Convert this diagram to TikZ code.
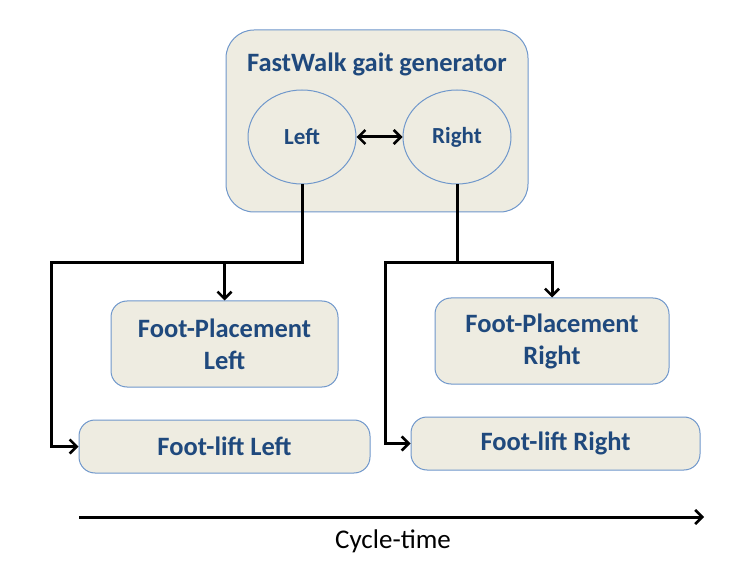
\documentclass[tikz,border=0pt]{standalone}
\usepackage{fontspec}
\setmainfont{Carlito}
\usetikzlibrary{arrows.meta, positioning, calc, shapes.geometric}

\definecolor{boxfill}{HTML}{EEECE1}
\definecolor{boxline}{HTML}{6F97CB}
\definecolor{boxtext}{HTML}{1F497D}

\tikzset{
    block/.style={draw=boxline, fill=boxfill, line width=1pt, rounded corners=16pt,
        text=boxtext, font=\fontsize{26.5}{32}\selectfont\bfseries, align=center, inner sep=0pt},
    phase/.style={ellipse, draw=boxline, fill=boxfill, line width=1pt,
        text=boxtext, font=\fontsize{23}{28}\selectfont\bfseries, inner sep=0pt},
    conn/.style={line width=3pt, >={Straight Barb[length=7pt, width=14pt, line width=2.6pt]}}
}

\begin{document}
\begin{tikzpicture}[x=1pt, y=1pt]
        \useasboundingbox (0,0) rectangle (745,-572);

        % Gait generator with its two legs
        \node[block, rounded corners=28pt, minimum width=302pt, minimum height=182pt] (gen) at (377,-121) {};
        \node[text=boxtext, font=\fontsize{26.5}{32}\selectfont\bfseries] (title) at (377,-64) {FastWalk gait generator};
        \node[phase, minimum width=108pt, minimum height=94pt] (left) at (302,-137) {Left};
        \node[phase, minimum width=108pt, minimum height=94pt] (right) at (457,-137) {Right};
        \draw[conn, <->] (left) -- (right);

        % Output modules
        \node[block, minimum width=227pt, minimum height=86pt] (placeL) at (224.5,-344) {Foot-Placement\\Left};
        \node[block, minimum width=234pt, minimum height=86pt] (placeR) at (552,-341) {Foot-Placement\\Right};
        \node[block, minimum width=291pt, minimum height=53pt] (liftL) at (224.5,-446.5) {Foot-lift Left};
        \node[block, minimum width=289pt, minimum height=53pt] (liftR) at (555.5,-443.5) {Foot-lift Right};

        % Left leg wiring
        \coordinate (lknee) at (302,-263);
        \coordinate (lcorner) at (51,-263);
        \draw[conn, ->] (left) -- (lknee) -- (lcorner) |- (liftL);
        \draw[conn, ->] (placeL.north |- lknee) -- (placeL.north);

        % Right leg wiring
        \coordinate (rknee) at (457,-263);
        \coordinate (rcorner) at (385,-263);
        \draw[conn, ->] (right) -- (rknee) -| (placeR);
        \draw[conn, ->] (rknee) -- (rcorner) |- (liftR);

        % Time axis
        \coordinate (tstart) at (79,-517);
        \coordinate (tend) at (704,-517);
        \draw[conn, ->] (tstart) -- (tend);
        \node[font=\fontsize{27}{32}\selectfont] (cycle) at (393,-541) {Cycle-time};

    \end{tikzpicture}
\end{document}
